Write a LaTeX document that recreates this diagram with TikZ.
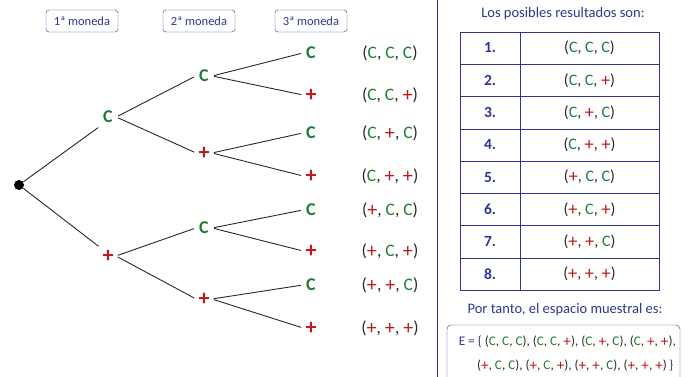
\documentclass[tikz,border=0pt]{standalone}
\usepackage{fontspec}
\setmainfont{Carlito}
\usetikzlibrary{graphs}

\definecolor{verde}{RGB}{30,125,50}
\definecolor{rojo}{RGB}{190,25,30}
\definecolor{azul}{RGB}{45,55,145}
\definecolor{tinta}{RGB}{40,40,40}

\newcommand{\Cv}{\textcolor{verde}{C}}
\newcommand{\Xr}{\textcolor{rojo}{\raisebox{-0.06em}{\scalebox{1.15}{+}}}}
\newcommand{\terna}[3]{(#1, #2, #3)}

\begin{document}
\begin{tikzpicture}[
                x=1pt, y=-1pt,
                draw=tinta,
                line width=0.9pt,
                cara/.style={text=verde, font=\bfseries\fontsize{18}{18}\selectfont, inner sep=3pt},
                cruz/.style={text=rojo, font=\bfseries\fontsize{22}{22}\selectfont, inner sep=2pt},
                rama/.style={draw=tinta, line width=0.9pt, shorten <=2pt, shorten >=2pt},
                moneda/.style={draw=azul, thin, rounded corners=3pt, minimum width=72pt,
                    minimum height=22pt, text=azul, font=\fontsize{12.5}{13}\selectfont},
                resultado/.style={text=tinta, font=\fontsize{17.5}{18}\selectfont},
                titulo/.style={text=azul, font=\fontsize{14.5}{15}\selectfont},
                celda/.style={text=tinta, font=\fontsize{16}{16}\selectfont},
                numero/.style={text=azul, font=\bfseries\fontsize{15.5}{16}\selectfont},
            ]
            \useasboundingbox (0,0) rectangle (689,377);

            % cabeceras
            \node[moneda] (m1) at (82,21) {1ª moneda};
            \node[moneda] (m2) at (199,21) {2ª moneda};
            \node[moneda] (m3) at (311,21) {3ª moneda};

            % arbol
            \node[circle, fill=black, inner sep=0pt, minimum size=10pt] (O) at (19,185) {};
            \node[cara] (C) at (108,117) {C};
            \node[cruz] (X) at (108,256) {+};

            \node[cara] (CC) at (204,76) {C};
            \node[cruz] (CX) at (204,153) {+};
            \node[cara] (XC) at (204,228) {C};
            \node[cruz] (XX) at (204,299) {+};

            \node[cara] (CCC) at (311,53) {C};
            \node[cruz] (CCX) at (311,95) {+};
            \node[cara] (CXC) at (311,133) {C};
            \node[cruz] (CXX) at (311,176) {+};
            \node[cara] (XCC) at (311,210) {C};
            \node[cruz] (XCX) at (311,251) {+};
            \node[cara] (XXC) at (311,285) {C};
            \node[cruz] (XXX) at (311,328) {+};

            \draw[rama, shorten <=0pt] (O) -- (C.south west);
            \draw[rama, shorten <=0pt] (O) -- (X.north west);
            \draw[rama] (C.east) -- (CC.west);
            \draw[rama] (C.east) -- (CX.west);
            \draw[rama] (X.east) -- (XC.west);
            \draw[rama] (X.east) -- (XX.west);
            \draw[rama] (CC.east) -- (CCC.west);
            \draw[rama] (CC.east) -- (CCX.west);
            \draw[rama] (CX.east) -- (CXC.west);
            \draw[rama] (CX.east) -- (CXX.west);
            \draw[rama] (XC.east) -- (XCC.west);
            \draw[rama] (XC.east) -- (XCX.west);
            \draw[rama] (XX.east) -- (XXC.west);
            \draw[rama] (XX.east) -- (XXX.west);

            % ternas junto al arbol
            \node[resultado] (r1) at (390,53) {\terna{\Cv}{\Cv}{\Cv}};
            \node[resultado] (r2) at (390,95) {\terna{\Cv}{\Cv}{\Xr}};
            \node[resultado] (r3) at (390,133) {\terna{\Cv}{\Xr}{\Cv}};
            \node[resultado] (r4) at (390,176) {\terna{\Cv}{\Xr}{\Xr}};
            \node[resultado] (r5) at (390,210) {\terna{\Xr}{\Cv}{\Cv}};
            \node[resultado] (r6) at (390,251) {\terna{\Xr}{\Cv}{\Xr}};
            \node[resultado] (r7) at (390,285) {\terna{\Xr}{\Xr}{\Cv}};
            \node[resultado] (r8) at (390,328) {\terna{\Xr}{\Xr}{\Xr}};

            % separador
            \coordinate (s1) at (437,0);
            \coordinate (s2) at (437,377);
            \draw[azul, thin] (s1) -- (s2);

            % tabla
            \node[titulo] (t) at (563,14) {Los posibles resultados son:};
            \draw[azul, thin] (460,32) rectangle (659,290);
            \draw[azul, thin] (520,32) -- (520,290);
            \foreach \y in {64.25,96.5,128.75,161,193.25,225.5,257.75}
                \draw[azul, thin] (460,\y) -- (659,\y);

            \node[numero] (n1) at (490,48) {1.};
            \node[numero] (n2) at (490,80.4) {2.};
            \node[numero] (n3) at (490,112.6) {3.};
            \node[numero] (n4) at (490,144.9) {4.};
            \node[numero] (n5) at (490,177.1) {5.};
            \node[numero] (n6) at (490,209.4) {6.};
            \node[numero] (n7) at (490,241.6) {7.};
            \node[numero] (n8) at (490,273.9) {8.};

            \node[celda] (c1) at (589.5,48) {\terna{\Cv}{\Cv}{\Cv}};
            \node[celda] (c2) at (589.5,80.4) {\terna{\Cv}{\Cv}{\Xr}};
            \node[celda] (c3) at (589.5,112.6) {\terna{\Cv}{\Xr}{\Cv}};
            \node[celda] (c4) at (589.5,144.9) {\terna{\Cv}{\Xr}{\Xr}};
            \node[celda] (c5) at (589.5,177.1) {\terna{\Xr}{\Cv}{\Cv}};
            \node[celda] (c6) at (589.5,209.4) {\terna{\Xr}{\Cv}{\Xr}};
            \node[celda] (c7) at (589.5,241.6) {\terna{\Xr}{\Xr}{\Cv}};
            \node[celda] (c8) at (589.5,273.9) {\terna{\Xr}{\Xr}{\Xr}};

            % espacio muestral
            \node[titulo] (p) at (565,310) {Por tanto, el espacio muestral es:};
            \draw[azul, thin, rounded corners=4pt] (447,385) -- (447,325) -- (680,325) -- (680,385);
            \node[celda, anchor=west, font=\fontsize{13.2}{14}\selectfont] (e1) at (455,342)
                {\textcolor{azul}{E = \{} \terna{\Cv}{\Cv}{\Cv}, \terna{\Cv}{\Cv}{\Xr}, \terna{\Cv}{\Xr}{\Cv}, \terna{\Cv}{\Xr}{\Xr},};
            \node[celda, anchor=east, font=\fontsize{13.2}{14}\selectfont] (e2) at (677,366)
                {\terna{\Xr}{\Cv}{\Cv}, \terna{\Xr}{\Cv}{\Xr}, \terna{\Xr}{\Xr}{\Cv}, \terna{\Xr}{\Xr}{\Xr}\,\textcolor{azul}{\}}};
        \end{tikzpicture}
\end{document}
